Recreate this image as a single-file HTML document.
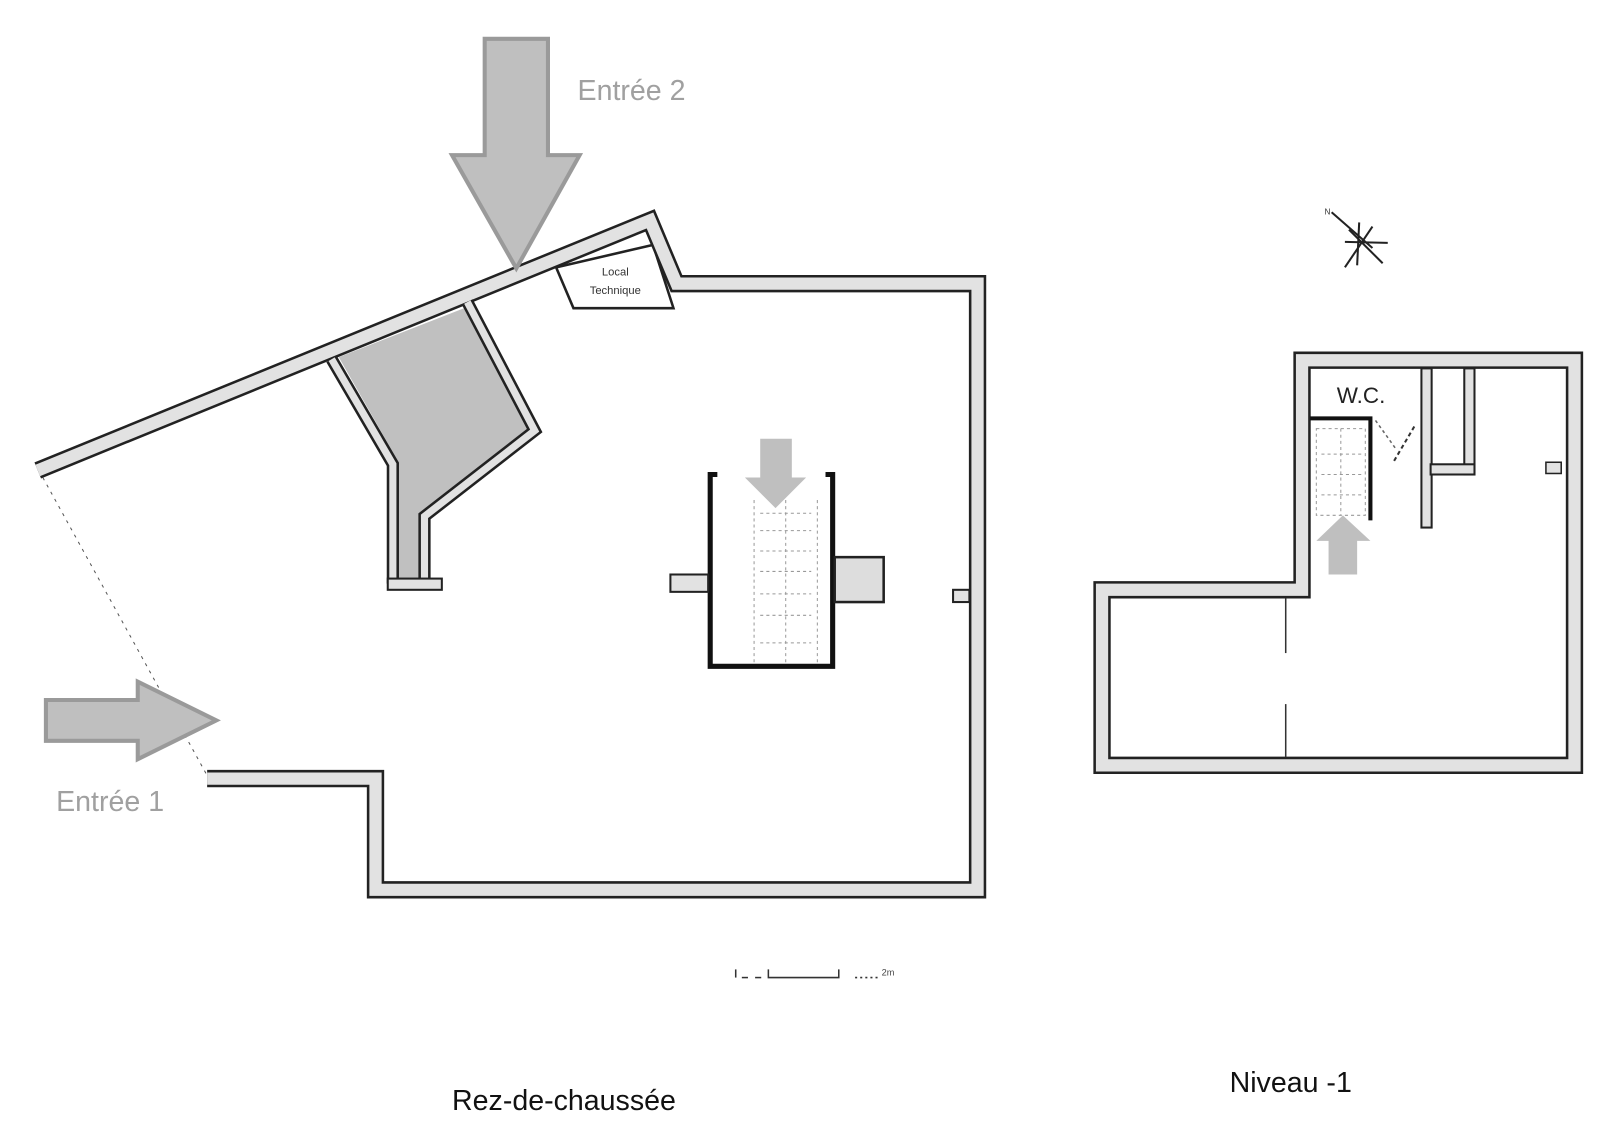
<!DOCTYPE html>
<html><head><meta charset="utf-8"><style>
html,body{margin:0;padding:0;background:#fff;}
svg{display:block;}
text{font-family:"Liberation Sans","DejaVu Sans",sans-serif;}
</style></head><body>
<svg width="1600" height="1134" viewBox="0 0 1568 1111.3" preserveAspectRatio="none" xmlns="http://www.w3.org/2000/svg">
<rect width="1568" height="1112" fill="#fff"/>
<!-- local technique (under walls) -->
<polygon points="545,262 562,302 660,302 640,240" fill="#fff" stroke="#222" stroke-width="2.5"/>
<text x="603" y="270" font-size="11" text-anchor="middle" fill="#333">Local</text>
<text x="603" y="288" font-size="11" text-anchor="middle" fill="#333">Technique</text>
<!-- Ground floor walls -->
<g fill="none" stroke-linejoin="miter">
<polyline points="37,461 637,216 663,278 958,278 958,872 368,872 368,763 203,763" stroke="#222" stroke-width="17"/>
<polyline points="37,461 637,216 663,278 958,278 958,872 368,872 368,763 203,763" stroke="#e2e2e2" stroke-width="12"/>
</g>
<!-- gray shaft -->
<polygon points="332,350 460,300 520,420 412,506 412,570 390,570 390,452" fill="#c0c0c0"/>
<polyline points="325,352 385,455 385,572" fill="none" stroke="#222" stroke-width="12"/>
<polyline points="325,352 385,455 385,572" fill="none" stroke="#e2e2e2" stroke-width="7"/>
<polyline points="458,296 524,422 416,506 416,572" fill="none" stroke="#222" stroke-width="12"/>
<polyline points="458,296 524,422 416,506 416,572" fill="none" stroke="#e2e2e2" stroke-width="7"/>
<rect x="380" y="567" width="53" height="11" fill="#e2e2e2" stroke="#222" stroke-width="2"/>
<!-- dotted entrance line -->
<line x1="42" y1="468" x2="203" y2="760" stroke="#555" stroke-width="1" stroke-dasharray="3,5"/>
<!-- notch right wall -->
<rect x="934" y="578" width="16" height="12" fill="#e2e2e2" stroke="#222" stroke-width="2"/>
<!-- stair -->
<g stroke="#999" stroke-width="1" stroke-dasharray="3,3">
<line x1="739" y1="490" x2="739" y2="650"/><line x1="770" y1="490" x2="770" y2="650"/><line x1="801" y1="490" x2="801" y2="650"/>
<line x1="745" y1="503" x2="795" y2="503"/><line x1="745" y1="520" x2="795" y2="520"/><line x1="745" y1="540" x2="795" y2="540"/><line x1="745" y1="560" x2="795" y2="560"/><line x1="745" y1="582" x2="795" y2="582"/><line x1="745" y1="603" x2="795" y2="603"/><line x1="745" y1="630" x2="795" y2="630"/>
</g>
<polyline points="703,465 696,465 696,653 816,653 816,465 809,465" fill="none" stroke="#111" stroke-width="5"/>
<rect x="657" y="563" width="37" height="17" fill="#e2e2e2" stroke="#222" stroke-width="2"/>
<rect x="818" y="546" width="48" height="44" fill="#ddd" stroke="#222" stroke-width="2.5"/>
<!-- arrows -->
<polygon points="475,38 537,38 537,152 568,152 506,263 443,152 475,152" fill="#bfbfbf" stroke="#9a9a9a" stroke-width="4"/>
<polygon points="45,686 135,686 135,668 212,706 135,744 135,726 45,726" fill="#bfbfbf" stroke="#9a9a9a" stroke-width="4"/>
<polygon points="745,430 776,430 776,468 790,468 760,498 730,468 745,468" fill="#bfbfbf"/>
<text x="566" y="98" font-size="28" fill="#a0a0a0">Entrée 2</text>
<text x="55" y="795" font-size="28" fill="#a0a0a0">Entrée 1</text>
<!-- scale bar -->
<g stroke="#333" stroke-width="1.5" fill="none">
<line x1="721" y1="950" x2="721" y2="958"/><line x1="727" y1="958" x2="733" y2="958"/><line x1="740" y1="958" x2="746" y2="958"/>
<polyline points="753,950 753,958 822,958 822,950"/><line x1="838" y1="958" x2="860" y2="958" stroke-dasharray="2,3"/>
</g>
<text x="864" y="956" font-size="9" fill="#444">2m</text>
<!-- compass -->
<g stroke="#222" stroke-width="2" fill="none">
<line x1="1305" y1="208" x2="1345" y2="243"/><line x1="1332" y1="218" x2="1330" y2="260"/>
<line x1="1345" y1="222" x2="1318" y2="262"/><line x1="1318" y1="237" x2="1360" y2="238"/>
<line x1="1322" y1="225" x2="1355" y2="258"/>
</g>
<text x="1298" y="210" font-size="8" fill="#333">N</text>
<!-- Niveau -1 walls -->
<g fill="none">
<polygon points="1276,353 1543,353 1543,750 1080,750 1080,578 1276,578" stroke="#222" stroke-width="17" stroke-linejoin="miter"/>
<polygon points="1276,353 1543,353 1543,750 1080,750 1080,578 1276,578" stroke="#e2e2e2" stroke-width="12" stroke-linejoin="miter"/>
</g>
<!-- partitions -->
<rect x="1393" y="361" width="10" height="156" fill="#e2e2e2" stroke="#222" stroke-width="2"/>
<rect x="1435" y="361" width="10" height="104" fill="#e2e2e2" stroke="#222" stroke-width="2"/>
<rect x="1402" y="455" width="43" height="10" fill="#e2e2e2" stroke="#222" stroke-width="2"/>
<rect x="1515" y="453" width="15" height="11" fill="#e2e2e2" stroke="#222" stroke-width="1.5"/>
<line x1="1260" y1="586" x2="1260" y2="640" stroke="#333" stroke-width="1.5"/>
<line x1="1260" y1="690" x2="1260" y2="742" stroke="#333" stroke-width="1.5"/>
<!-- WC stair -->
<polyline points="1284,410 1343,410 1343,510" fill="none" stroke="#111" stroke-width="4"/>
<g stroke="#999" stroke-width="1" stroke-dasharray="3,3" fill="none">
<rect x="1290" y="420" width="48" height="85"/><line x1="1314" y1="420" x2="1314" y2="505"/>
<line x1="1295" y1="445" x2="1335" y2="445"/><line x1="1295" y1="465" x2="1335" y2="465"/><line x1="1295" y1="485" x2="1335" y2="485"/>
</g>
<line x1="1348" y1="412" x2="1368" y2="440" stroke="#666" stroke-width="1.5" stroke-dasharray="3,3"/>
<line x1="1386" y1="418" x2="1366" y2="452" stroke="#333" stroke-width="2" stroke-dasharray="4,3"/>
<polygon points="1302,563 1330,563 1330,530 1343,530 1316,505 1290,530 1302,530" fill="#bfbfbf"/>
<text x="1310" y="395" font-size="22" fill="#222">W.C.</text>
<text x="443" y="1088" font-size="28" fill="#111">Rez-de-chaussée</text>
<text x="1205" y="1070" font-size="28" fill="#111">Niveau -1</text>
</svg>
</body></html>
